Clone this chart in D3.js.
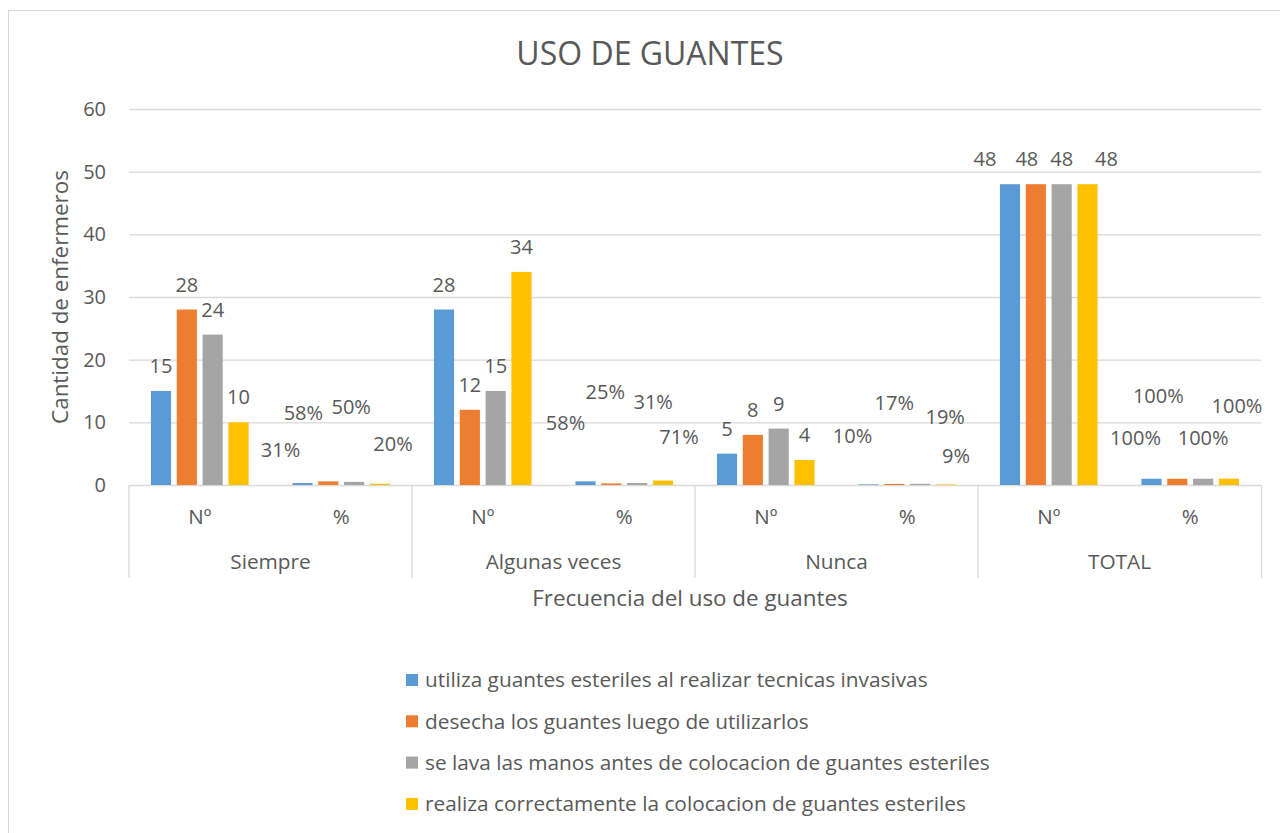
<!DOCTYPE html>
<html>
<head>
<meta charset="utf-8">
<script src="https://cdn.jsdelivr.net/npm/d3@7"></script>
<style>
  body { margin: 0; background: #fff; }
  svg text { font-family: 'Open Sans', sans-serif; fill: #595959; }
</style>
</head>
<body>
<svg id="chart" width="1280" height="833"></svg>
<script>
// chart values
const groups = ['Siempre', 'Algunas veces', 'Nunca', 'TOTAL'];
const subCats = ['Nº', '%'];
const seriesNames = [
  'utiliza guantes esteriles al realizar tecnicas invasivas',
  'desecha los guantes luego de utilizarlos',
  'se lava las manos antes de colocacion de guantes esteriles',
  'realiza correctamente la colocacion de guantes esteriles',
];
// one value per column: Siempre Nº, Siempre %, Algunas Nº, Algunas %, Nunca Nº, Nunca %, TOTAL Nº, TOTAL %
const utilizaVals = [15, 0.31, 28, 0.58, 5, 0.10, 48, 1];
const desechaVals = [28, 0.58, 12, 0.25, 8, 0.17, 48, 1];
const lavaVals = [24, 0.50, 15, 0.31, 9, 0.19, 48, 1];
const realizaVals = [10, 0.20, 34, 0.71, 4, 0.09, 48, 1];
const yTicks = [0, 10, 20, 30, 40, 50, 60];

const seriesVals = [utilizaVals, desechaVals, lavaVals, realizaVals];
const colors = ['#5b9bd5', '#ed7d31', '#a5a5a5', '#ffc000'];

// hand-placed data labels in the original (px nudges per series / column)
const labelNudge = [
  [[0, 0], [-22, -8], [0, 0], [-20, -33], [0, 0], [-16, -23], [-25, 0], [-16, -16]],
  [[0, 0], [-25, -43], [0, 0], [-6, -66], [0, 0], [0, -56], [-9, 0], [-19, -58]],
  [[0, 0], [-3, -50], [0, 0], [16, -56], [0, 0], [25, -42], [0, 0], [0, -16]],
  [[0, 0], [13, -15], [0, 0], [16, -19], [0, 0], [10, -3], [19, 0], [8, -48]],
];

const plotLeft = 129;
const plotRight = 1261;
const plotTop = 109;
const plotBottom = 485;
const axisBottom = 578;
const grey = '#d9d9d9';

const columns = [];
groups.forEach((g) => { subCats.forEach((s) => { columns.push({ group: g, sub: s }); }); });

const svg = d3.select('#chart');

// outer chart frame
svg.append('rect')
  .attr('x', 8.5)
  .attr('y', 10.5)
  .attr('width', 1300)
  .attr('height', 900)
  .attr('fill', '#fff')
  .attr('stroke', grey);

const x0 = d3.scaleBand()
  .domain(d3.range(columns.length))
  .range([plotLeft, plotRight])
  .paddingInner(0.31)
  .paddingOuter(0.155);

const x1 = d3.scaleBand()
  .domain(d3.range(seriesNames.length))
  .range([0, x0.bandwidth()])
  .paddingInner(0.22);

const xGroup = d3.scaleBand()
  .domain(groups)
  .range([plotLeft, plotRight]);

const y = d3.scaleLinear()
  .domain([0, 60])
  .range([plotBottom, plotTop]);

// gridlines + tick labels
const yAxis = svg.append('g')
  .attr('transform', `translate(${plotLeft},0)`)
  .call(d3.axisLeft(y).tickValues(yTicks).tickSize(-(plotRight - plotLeft)).tickPadding(23));
yAxis.select('.domain').remove();
yAxis.selectAll('line').attr('stroke', grey).attr('stroke-width', 1.3);
yAxis.selectAll('text')
  .attr('font-size', 20)
  .style('font-family', "'Open Sans', sans-serif")
  .attr('fill', '#595959');

// bars
const colG = svg.append('g')
  .selectAll('g')
  .data(columns)
  .enter()
  .append('g')
  .attr('transform', (d, i) => `translate(${x0(i)},0)`);

colG.selectAll('rect')
  .data((d, i) => seriesVals.map((vals, s) => ({ s, v: vals[i] })))
  .enter()
  .append('rect')
  .attr('x', d => x1(d.s))
  .attr('y', d => y(d.v))
  .attr('width', x1.bandwidth())
  .attr('height', d => plotBottom - y(d.v))
  .attr('fill', d => colors[d.s]);

// data labels
const pct = d3.format('.0%');
colG.selectAll('text')
  .data((d, i) => seriesVals.map((vals, s) => ({
    s, v: vals[i], sub: d.sub, nudge: labelNudge[s][i],
  })))
  .enter()
  .append('text')
  .attr('x', d => x1(d.s) + (x1.bandwidth() / 2) + d.nudge[0])
  .attr('y', d => y(d.v) - 25 + d.nudge[1])
  .attr('dy', '0.35em')
  .attr('text-anchor', 'middle')
  .attr('font-size', 20)
  .text(d => (d.sub === '%' ? pct(d.v) : d.v));

// two-level category axis
const catAxis = svg.append('g');
xGroup.domain().concat(['end']).forEach((g) => {
  const xp = g === 'end' ? plotRight + 0.5 : xGroup(g);
  catAxis.append('line')
    .attr('x1', xp)
    .attr('x2', xp)
    .attr('y1', plotBottom)
    .attr('y2', axisBottom)
    .attr('stroke', grey)
    .attr('stroke-width', 1.3);
});

catAxis.selectAll('text.sub')
  .data(columns)
  .enter()
  .append('text')
  .attr('class', 'sub')
  .attr('x', (d, i) => x0(i) + (x0.bandwidth() / 2))
  .attr('y', 517)
  .attr('dy', '0.35em')
  .attr('text-anchor', 'middle')
  .attr('font-size', 20.5)
  .text(d => d.sub);

catAxis.selectAll('text.grp')
  .data(groups)
  .enter()
  .append('text')
  .attr('class', 'grp')
  .attr('x', d => xGroup(d) + (xGroup.bandwidth() / 2))
  .attr('y', 562)
  .attr('dy', '0.35em')
  .attr('text-anchor', 'middle')
  .attr('font-size', 20.8)
  .text(d => d);

// titles
svg.append('text')
  .attr('x', 650)
  .attr('y', 65)
  .attr('text-anchor', 'middle')
  .attr('font-size', 32)
  .text('USO DE GUANTES');

svg.append('text')
  .attr('x', 690)
  .attr('y', 606)
  .attr('text-anchor', 'middle')
  .attr('font-size', 22.4)
  .text('Frecuencia del uso de guantes');

svg.append('text')
  .attr('transform', 'translate(68,297) rotate(-90)')
  .attr('text-anchor', 'middle')
  .attr('font-size', 22.4)
  .text('Cantidad de enfermeros');

// legend
const legend = svg.append('g')
  .attr('transform', 'translate(406,680)');

const item = legend.selectAll('g')
  .data(seriesNames)
  .enter()
  .append('g')
  .attr('transform', (d, i) => `translate(0,${i * 41.3})`);

item.append('rect')
  .attr('y', -6)
  .attr('width', 12)
  .attr('height', 12)
  .attr('fill', (d, i) => colors[i]);

item.append('text')
  .attr('x', 19)
  .attr('dy', '0.35em')
  .attr('font-size', 20.8)
  .text(d => d);
</script>
</body>
</html>
